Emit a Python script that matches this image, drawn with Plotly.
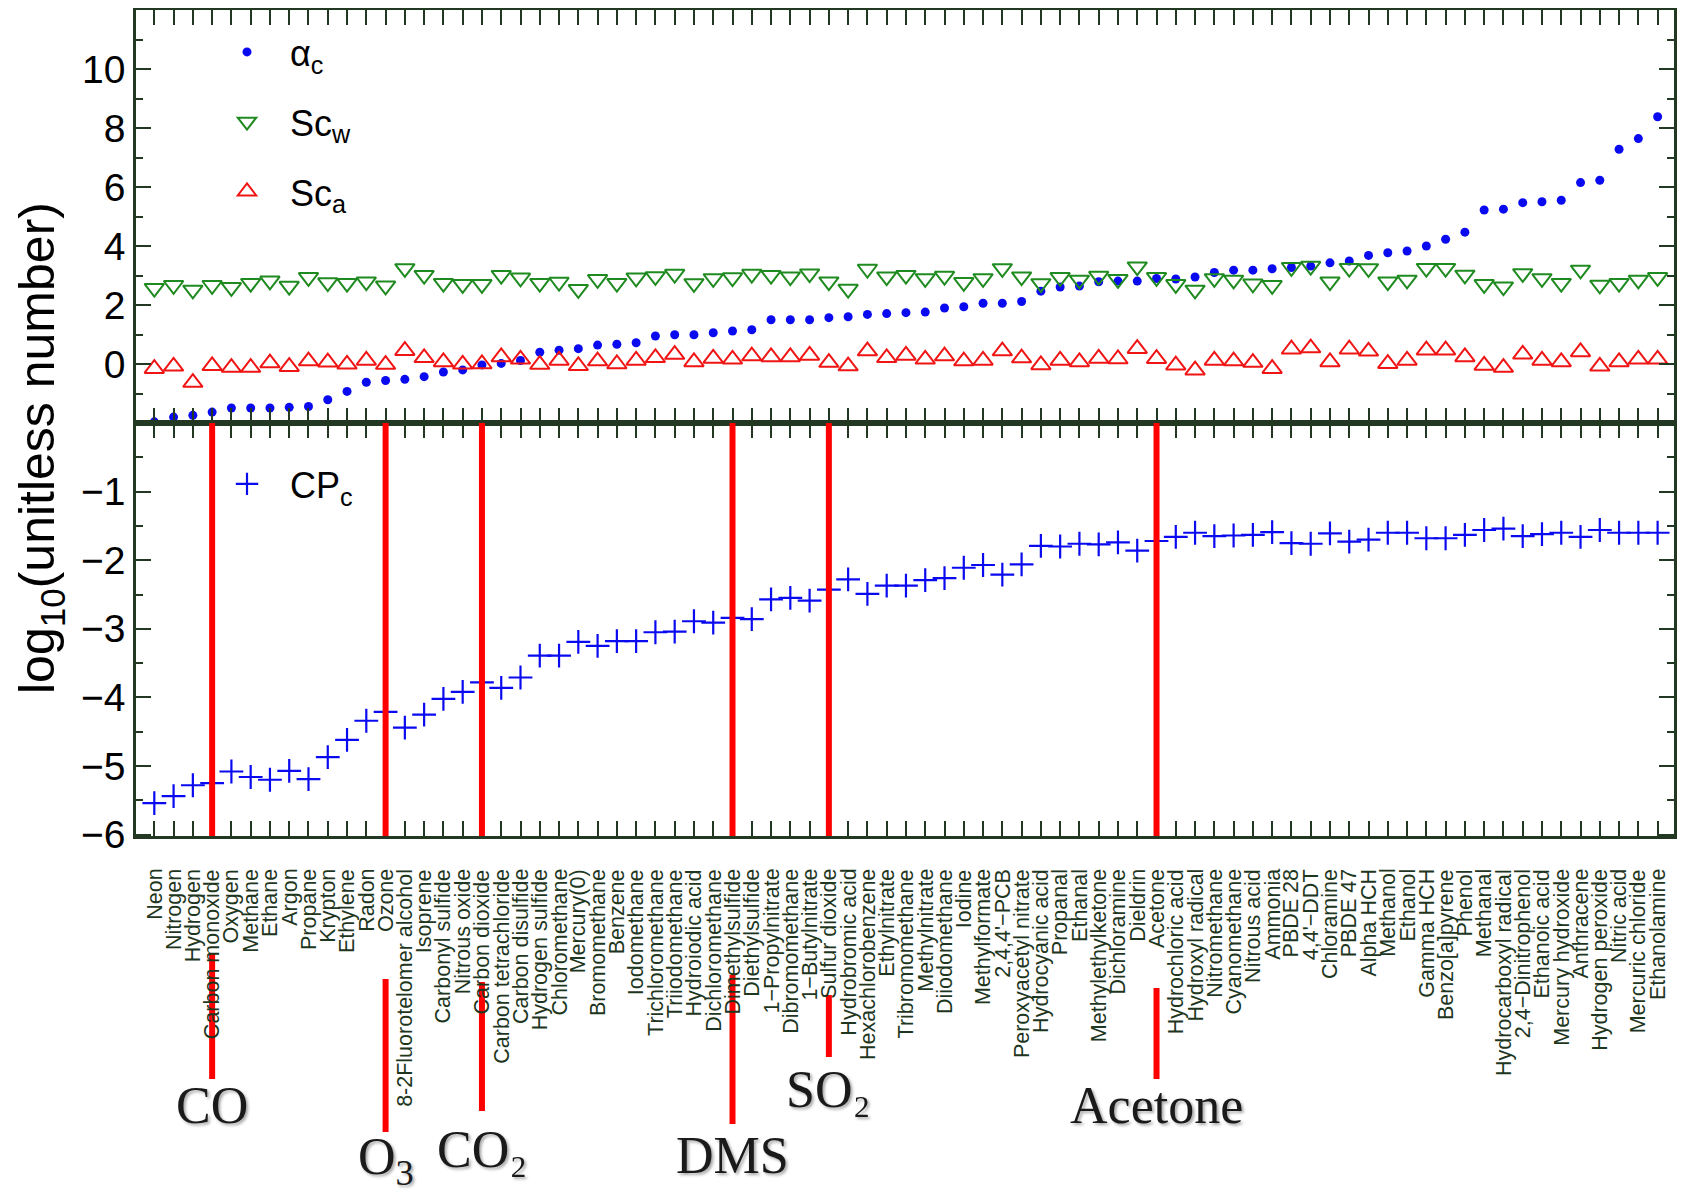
import plotly.graph_objects as go

# ---------------- data ----------------
categories = [
    "Neon", "Nitrogen", "Hydrogen", "Carbon monoxide", "Oxygen", "Methane", "Ethane", "Argon",
    "Propane", "Krypton", "Ethylene", "Radon", "Ozone", "8-2Fluorotelomer alcohol", "Isoprene",
    "Carbonyl sulfide", "Nitrous oxide", "Carbon dioxide", "Carbon tetrachloride", "Carbon disulfide",
    "Hydrogen sulfide", "Chloromethane", "Mercury(0)", "Bromomethane", "Benzene", "Iodomethane",
    "Trichloromethane", "Triiodomethane", "Hydroiodic acid", "Dichloromethane", "Dimethylsulfide",
    "Diethylsulfide", "1\u2212Propylnitrate", "Dibromomethane", "1\u2212Butylnitrate", "Sulfur dioxide",
    "Hydrobromic acid", "Hexachlorobenzene", "Ethylnitrate", "Tribromomethane", "Methylnitrate",
    "Diiodomethane", "Iodine", "Methylformate", "2,4,4'\u2212PCB", "Peroxyacetyl nitrate",
    "Hydrocyanic acid", "Propanal", "Ethanal", "Methylethylketone", "Dichloramine", "Dieldrin",
    "Acetone", "Hydrochloric acid", "Hydroxyl radical", "Nitromethane", "Cyanomethane",
    "Nitrous acid", "Ammonia", "PBDE 28", "4,4'\u2212DDT", "Chloramine", "PBDE 47", "Alpha HCH",
    "Methanol", "Ethanol", "Gamma HCH", "Benzo[a]pyrene", "Phenol", "Methanal",
    "Hydrocarboxyl radical", "2,4\u2212Dinitrophenol", "Ethanoic acid", "Mercury hydroxide",
    "Anthracene", "Hydrogen peroxide", "Nitric acid", "Mercuric chloride", "Ethanolamine",
]

alpha_c = [
    -1.96, -1.80, -1.74, -1.63, -1.49, -1.49, -1.49, -1.47, -1.44, -1.21,
    -0.93, -0.62, -0.56, -0.52, -0.43, -0.27, -0.20, -0.03, 0.02, 0.12,
    0.40, 0.47, 0.52, 0.64, 0.67, 0.72, 0.95, 0.99, 0.99, 1.06,
    1.12, 1.16, 1.50, 1.50, 1.50, 1.57, 1.60, 1.68, 1.71, 1.74,
    1.76, 1.90, 1.94, 2.06, 2.06, 2.12, 2.47, 2.61, 2.64, 2.79,
    2.81, 2.81, 2.90, 2.88, 2.95, 3.10, 3.18, 3.18, 3.23, 3.27,
    3.32, 3.43, 3.49, 3.68, 3.77, 3.83, 4.00, 4.23, 4.47, 5.22,
    5.25, 5.47, 5.50, 5.55, 6.15, 6.23, 7.28, 7.64, 8.38,
]

sc_w = [
    2.57, 2.67, 2.51, 2.67, 2.60, 2.74, 2.82, 2.64, 2.94, 2.76,
    2.74, 2.79, 2.65, 3.24, 3.01, 2.74, 2.70, 2.70, 3.01, 2.92,
    2.74, 2.78, 2.53, 2.87, 2.74, 2.92, 2.97, 3.05, 2.73, 2.90,
    2.93, 3.05, 3.01, 2.96, 3.06, 2.79, 2.54, 3.22, 2.96, 3.01,
    2.90, 2.98, 2.77, 2.90, 3.24, 2.96, 2.73, 2.94, 2.85, 2.98,
    2.87, 3.30, 2.94, 2.70, 2.51, 2.90, 2.85, 2.72, 2.67, 3.28,
    3.32, 2.79, 3.25, 3.24, 2.79, 2.85, 3.25, 3.25, 3.02, 2.70,
    2.62, 3.07, 2.90, 2.74, 3.19, 2.68, 2.74, 2.85, 2.94,
]

sc_a = [
    -0.16, -0.08, -0.63, -0.06, -0.12, -0.12, 0.03, -0.09, 0.10, 0.06,
    -0.01, 0.12, -0.02, 0.45, 0.21, 0.07, -0.01, 0.00, 0.24, 0.16,
    -0.02, 0.12, -0.06, 0.10, 0.00, 0.12, 0.21, 0.32, 0.07, 0.19,
    0.16, 0.27, 0.24, 0.24, 0.29, 0.05, -0.07, 0.44, 0.21, 0.29,
    0.16, 0.27, 0.10, 0.12, 0.44, 0.20, -0.03, 0.12, 0.07, 0.19,
    0.17, 0.52, 0.18, -0.04, -0.21, 0.12, 0.10, 0.05, -0.16, 0.50,
    0.54, 0.07, 0.50, 0.43, 0.01, 0.12, 0.47, 0.47, 0.24, -0.05,
    -0.12, 0.33, 0.12, 0.07, 0.41, -0.08, 0.07, 0.16, 0.16,
]

cp_c = [
    -5.54, -5.44, -5.28, -5.25, -5.08, -5.16, -5.20, -5.07, -5.19, -4.87,
    -4.62, -4.34, -4.21, -4.44, -4.25, -4.02, -3.92, -3.78, -3.86, -3.71,
    -3.39, -3.39, -3.19, -3.25, -3.18, -3.18, -3.05, -3.04, -2.89, -2.91,
    -2.84, -2.86, -2.57, -2.55, -2.59, -2.43, -2.28, -2.49, -2.37, -2.37,
    -2.29, -2.26, -2.11, -2.07, -2.21, -2.06, -1.79, -1.80, -1.76, -1.77,
    -1.74, -1.86, -1.72, -1.66, -1.60, -1.65, -1.64, -1.63, -1.59, -1.75,
    -1.76, -1.61, -1.73, -1.70, -1.60, -1.60, -1.68, -1.68, -1.63, -1.56,
    -1.54, -1.65, -1.62, -1.60, -1.66, -1.56, -1.60, -1.60, -1.60,
]

top_ticks = [0, 2, 4, 6, 8, 10]
bottom_ticks = [-1, -2, -3, -4, -5, -6]

highlight_cats = ["Carbon monoxide", "Ozone", "Carbon dioxide",
                  "Dimethylsulfide", "Sulfur dioxide", "Acetone"]
highlight_labels = ["CO", "O<sub>3</sub>", "CO\u2082", "DMS", "SO\u2082", "Acetone"]

# ---------------- layout geometry (page pixels) ----------------
PAGE_W, PAGE_H = 1687, 1200
BODY = 8                      # default body margin of the html page
W, H = PAGE_W - 2 * BODY, PAGE_H - 2 * BODY
PLOT_L, PLOT_R, PLOT_T, PLOT_B = 136, 1674, 10, 836   # page pixels of the frame
M_L, M_T = PLOT_L - BODY, PLOT_T - BODY
M_R, M_B = W - (PLOT_R - BODY), H - (PLOT_B - BODY)
PLOT_H = PLOT_B - PLOT_T
PLOT_W = PLOT_R - PLOT_L
CAT_LABEL_TOP = 868           # page y where the rotated category names start
stem_px = [(954, 1079), (979, 1132), (982, 1111), (975, 1124), (995, 1057), (988, 1079)]
label_px = [1105, 1160, 1149, 1155, 1089, 1105]


def paper_y(py):
    return (PLOT_B - py) / PLOT_H


def paper_x(px):
    return (px - PLOT_L) / PLOT_W


FRAME = "#233823"
BLUE = "#0a0af0"
GREEN = "#1f8a1f"
RED = "#f01414"
SANS = "Liberation Sans, Arial, sans-serif"
SERIF = "Liberation Serif, Times New Roman, serif"

fig = go.Figure()

fig.add_trace(go.Scatter(
    x=categories, y=alpha_c, mode="markers", name="\u03b1<sub>c</sub>",
    marker=dict(symbol="circle", size=9, color=BLUE),
    xaxis="x", yaxis="y", legend="legend", legendgroup="g1"))
fig.add_trace(go.Scatter(
    x=categories, y=sc_w, mode="markers", name="Sc<sub>w</sub>",
    marker=dict(symbol="triangle-down-open", size=17, color=GREEN, line=dict(width=2, color=GREEN)),
    xaxis="x", yaxis="y", legend="legend", legendgroup="g2"))
fig.add_trace(go.Scatter(
    x=categories, y=sc_a, mode="markers", name="Sc<sub>a</sub>",
    marker=dict(symbol="triangle-up-open", size=17, color=RED, line=dict(width=2, color=RED)),
    xaxis="x", yaxis="y", legend="legend", legendgroup="g3"))
fig.add_trace(go.Scatter(
    x=categories, y=cp_c, mode="markers", name="CP<sub>c</sub>",
    marker=dict(symbol="cross-thin-open", size=17, color=BLUE, line=dict(width=2.2, color=BLUE)),
    xaxis="x2", yaxis="y2", legend="legend2"))

shapes = []
annotations = []

# rotated category names under the lower panel, placed through the category axis
for cat in categories:
    annotations.append(dict(text=cat, xref="x2", yref="paper", x=cat, y=paper_y(CAT_LABEL_TOP),
                            xanchor="center", yanchor="top", textangle=-90, showarrow=False,
                            borderpad=0, font=dict(family=SANS, size=21.5, color="#1d361d")))

for cat, lab, (s0, s1), ly in zip(highlight_cats, highlight_labels, stem_px, label_px):
    shapes.append(dict(type="line", xref="x2", yref="y2 domain", x0=cat, x1=cat, y0=0, y1=1,
                       line=dict(color="#ff0000", width=6), layer="above"))
    shapes.append(dict(type="line", xref="x2", yref="paper", x0=cat, x1=cat,
                       y0=paper_y(s1), y1=paper_y(s0),
                       line=dict(color="#ff0000", width=6), layer="above"))
    annotations.append(dict(text=lab, xref="x2", yref="paper", x=cat, y=paper_y(ly),
                            xanchor="center", yanchor="middle", showarrow=False,
                            font=dict(family=SERIF, size=52, color="#1a1a1a",
                                      shadow="2px 2px 3px rgba(0,0,0,0.35)")))

annotations.append(dict(text="log<sub>10</sub>(unitless number)", xref="paper", yref="paper",
                        x=paper_x(40), y=paper_y(448), textangle=-90, showarrow=False,
                        xanchor="center", yanchor="middle",
                        font=dict(family=SANS, size=50, color="black")))

frame = dict(showline=True, linecolor=FRAME, linewidth=2.5, mirror="ticks",
             showgrid=False, zeroline=False, automargin=False)
tick = dict(ticks="inside", ticklen=15, tickwidth=2, tickcolor=FRAME)
xcat = dict(type="category", categoryorder="array", categoryarray=categories,
            range=[-0.95, 78.85], tickmode="linear", tick0=0, dtick=1, showticklabels=False)

fig.update_layout(
    template="none",
    width=W, height=H,
    margin=dict(l=M_L, r=M_R, t=M_T, b=M_B, pad=0),
    paper_bgcolor="white", plot_bgcolor="white",
    xaxis=dict(frame, **tick, **xcat, anchor="y"),
    xaxis2=dict(frame, **tick, **xcat, anchor="y2"),
    yaxis=dict(frame, **tick, anchor="x", domain=[0.5, 1], range=[-2, 12],
               tickmode="array", tickvals=top_ticks,
               tickfont=dict(family=SANS, size=39, color="black"),
               minor=dict(tickmode="linear", tick0=-1, dtick=1, ticks="inside", ticklen=7,
                          tickwidth=2, tickcolor=FRAME)),
    yaxis2=dict(frame, **tick, anchor="x2", domain=[0, 0.5], range=[-6.02, 0],
                tickmode="array", tickvals=bottom_ticks,
                tickfont=dict(family=SANS, size=39, color="black"),
                minor=dict(tickmode="linear", tick0=0, dtick=0.5, ticks="inside", ticklen=7,
                           tickwidth=2, tickcolor=FRAME)),
    showlegend=True,
    legend=dict(x=paper_x(204), xanchor="left", y=paper_y(22), yanchor="top",
                font=dict(family=SANS, size=36, color="black"), bgcolor="rgba(0,0,0,0)",
                itemwidth=76, tracegroupgap=20, borderwidth=0),
    legend2=dict(x=paper_x(204), xanchor="left", y=paper_y(454), yanchor="top",
                 font=dict(family=SANS, size=36, color="black"), bgcolor="rgba(0,0,0,0)",
                 itemwidth=76, borderwidth=0),
    shapes=shapes,
    annotations=annotations,
)

fig.write_html("out.html")
